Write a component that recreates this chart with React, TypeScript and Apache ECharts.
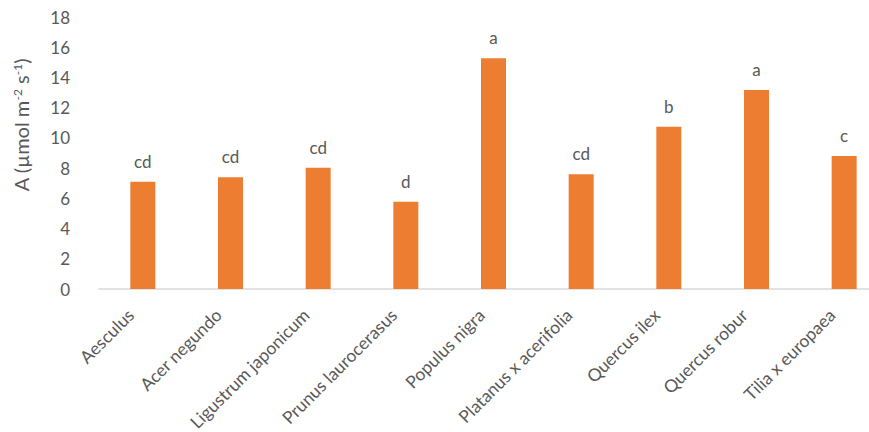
import React, { useEffect, useRef } from "react";
import * as echarts from "echarts";

const categories = [
  "Aesculus",
  "Acer negundo",
  "Ligustrum japonicum",
  "Prunus laurocerasus",
  "Populus nigra",
  "Platanus x acerifolia",
  "Quercus ilex",
  "Quercus robur",
  "Tilia x europaea",
];
const values = [7.1, 7.39, 8.03, 5.78, 15.27, 7.59, 10.74, 13.17, 8.8];
const letters = ["cd", "cd", "cd", "d", "a", "cd", "b", "a", "c"];
const yTicks = { min: 0, max: 18, interval: 2 };

const FONT = "Lato";
const TEXT = "#595959";

export default function App() {
  const ref = useRef<HTMLDivElement>(null);
  useEffect(() => {
    document.body.style.margin = "0";
    const chart = echarts.init(ref.current!, undefined, { renderer: "svg" });
    chart.setOption({
      animation: false,
      backgroundColor: "#ffffff",
      textStyle: { fontFamily: FONT },
      grid: {
        left: 99,
        width: 789,
        top: 17,
        bottom: 143,
        containLabel: false,
        outerBoundsMode: "none",
      },
      xAxis: {
        type: "category",
        data: categories,
        axisLine: { show: true, lineStyle: { color: "#D9D9D9", width: 1.5 } },
        axisTick: { show: false },
        axisLabel: {
          interval: 0,
          rotate: 45,
          margin: 11,
          padding: [0, 17, 0, 0],
          color: TEXT,
          fontSize: 17.5,
          fontFamily: FONT,
        },
      },
      yAxis: {
        type: "value",
        min: yTicks.min,
        max: yTicks.max,
        interval: yTicks.interval,
        axisLine: { show: false },
        axisTick: { show: false },
        splitLine: { show: false },
        axisLabel: { color: TEXT, fontSize: 17, fontFamily: FONT, margin: 29 },
      },
      series: [
        {
          type: "bar",
          data: values,
          barWidth: 25,
          itemStyle: { color: "#ED7D31" },
          label: {
            show: true,
            position: "top",
            distance: 12,
            color: TEXT,
            fontSize: 17,
            fontFamily: FONT,
            formatter: (p: any) => letters[p.dataIndex],
          },
        },
      ],
      graphic: [
        {
          type: "text",
          x: 21,
          y: 125,
          rotation: Math.PI / 2,
          style: {
            text: "{n|A (µmol m}{s|-2}{n| s}{s|-1}{n|)}",
            align: "center",
            verticalAlign: "middle",
            fill: TEXT,
            fontFamily: FONT,
            rich: {
              n: { fontSize: 20, fontFamily: FONT, fill: TEXT, color: TEXT },
              s: { fontSize: 12, fontFamily: FONT, fill: TEXT, color: TEXT, verticalAlign: "top", padding: [0, 0, 8, 0] },
            },
          },
        },
      ],
    });
    return () => chart.dispose();
  }, []);
  return <div ref={ref} style={{ width: 869, height: 432 }} />;
}
